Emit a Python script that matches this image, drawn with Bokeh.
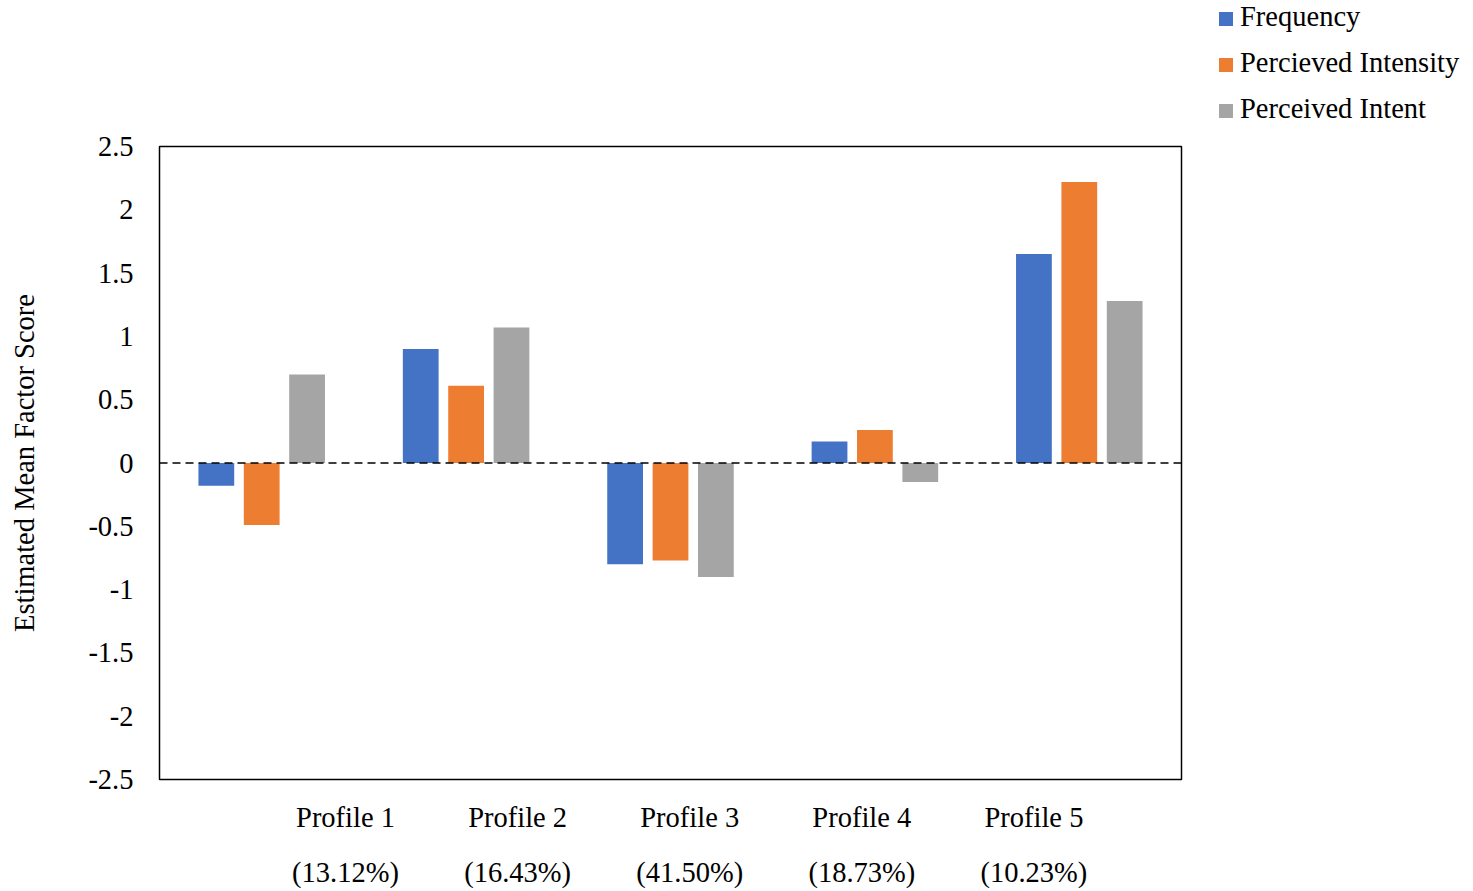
from bokeh.plotting import figure
from bokeh.layouts import column
from bokeh.models import (Range1d, FixedTicker, LinearAxis, Span, Div, ColumnDataSource)
from bokeh.transform import dodge
from bokeh.embed import file_html
from bokeh.resources import INLINE

# Data
profiles = ["Profile 1", "Profile 2", "Profile 3", "Profile 4", "Profile 5"]
shares = ["(13.12%)", "(16.43%)", "(41.50%)", "(18.73%)", "(10.23%)"]
frequency = [-0.18, 0.90, -0.80, 0.17, 1.65]
intensity = [-0.49, 0.61, -0.77, 0.26, 2.22]
intent = [0.70, 1.07, -0.90, -0.15, 1.28]
series_names = ["Frequency", "Percieved Intensity", "Perceived Intent"]
y_ticks = [-2.5, -2, -1.5, -1, -0.5, 0, 0.5, 1, 1.5, 2, 2.5]

colors = ["#4472C4", "#ED7D31", "#A5A5A5"]
FONT = "Liberation Serif"
FS = "28.5px"
W, H, TOP_H = 1473, 891, 130

src = ColumnDataSource(dict(
    x=[i + 0.5 for i in range(len(profiles))],
    frequency=frequency, intensity=intensity, intent=intent,
))

# ---- legend strip across the top ----
rows = []
for i, (name, col) in enumerate(zip(series_names, colors)):
    rows.append(
        f'<div style="position:absolute;left:1219px;top:{2 + 46 * i}px;'
        f'line-height:30px;white-space:nowrap;color:black;">'
        f'<span style="display:inline-block;width:14px;height:14px;background:{col};'
        f'margin-right:7px;vertical-align:baseline;"></span>{name}</div>'
    )
legend_html = (
    f'<div style="position:relative;width:{W}px;height:{TOP_H}px;'
    f"font-family:'{FONT}';font-size:{FS};\">" + "".join(rows) + "</div>"
)
legend_div = Div(text=legend_html, width=W, height=TOP_H, margin=(0, 0, 0, 0))

# ---- main chart ----
p = figure(width=W, height=H - TOP_H, output_backend="svg", toolbar_location=None,
           x_range=Range1d(0, len(profiles)), y_range=Range1d(-2.5, 2.5),
           x_axis_location=None, y_axis_location=None,
           min_border_left=159, min_border_right=292,
           min_border_top=146 - TOP_H, min_border_bottom=112)
p.grid.visible = False
p.outline_line_color = "black"
p.outline_line_width = 1.5
p.background_fill_color = "white"
p.border_fill_color = "white"

# Grouped bars
bw = 0.175
offsets = [-0.222, 0.0, 0.222]
for field, off, col in zip(["frequency", "intensity", "intent"], offsets, colors):
    p.vbar(x=dodge("x", off, range=p.x_range), top=field, bottom=0, width=bw,
           source=src, fill_color=col, line_color=None)

# Dashed zero line
p.add_layout(Span(location=0, dimension="width", line_color="black",
                  line_width=1.3, line_dash="8 5"))

# Y axis
yax = LinearAxis(ticker=FixedTicker(ticks=y_ticks),
                 axis_label="Estimated Mean Factor Score")
yax.major_label_overrides = {t: (str(t) if t != int(t) else str(int(t))) for t in y_ticks}
yax.axis_line_color = None
yax.major_tick_line_color = None
yax.minor_tick_line_color = None
yax.major_label_standoff = 20
yax.major_label_text_font = FONT
yax.major_label_text_font_size = FS
yax.major_label_text_color = "black"
yax.axis_label_text_font = FONT
yax.axis_label_text_font_size = FS
yax.axis_label_text_font_style = "normal"
yax.axis_label_text_color = "black"
yax.axis_label_standoff = 45
p.add_layout(yax, "left")

# Category label rows below the frame
label_pos = [0.91 + 0.842 * i for i in range(len(profiles))]


def label_axis(labels, standoff):
    ax = LinearAxis(ticker=FixedTicker(ticks=label_pos))
    ax.major_label_overrides = {pos: lab for pos, lab in zip(label_pos, labels)}
    ax.axis_line_color = None
    ax.major_tick_line_color = None
    ax.minor_tick_line_color = None
    ax.major_label_standoff = standoff
    ax.major_label_text_font = FONT
    ax.major_label_text_font_size = FS
    ax.major_label_text_color = "black"
    return ax


p.add_layout(label_axis(profiles, 16), "below")
p.add_layout(label_axis(shares, 15), "below")

layout = column(legend_div, p, spacing=0)
open("out.html", "w").write(file_html(layout, INLINE))
